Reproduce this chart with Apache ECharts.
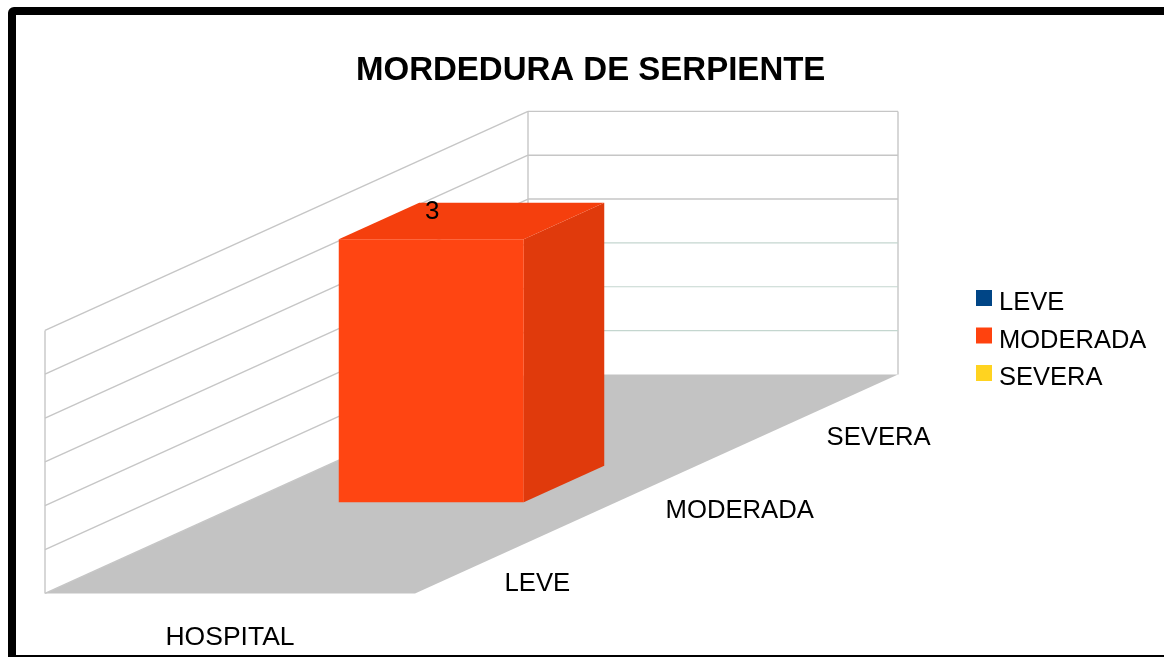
<!DOCTYPE html>
<html>
<head>
<meta charset="utf-8">
<title>MORDEDURA DE SERPIENTE</title>
<style>
html, body { margin: 0; padding: 0; background: #fff; overflow: hidden; }
#chart { width: 1164px; height: 657px; }
</style>
<script src="https://cdn.jsdelivr.net/npm/echarts@6/dist/echarts.min.js"></script>
</head>
<body>
<div id="chart"></div>
<script>
var categories = ['HOSPITAL'];
var seriesNames = ['LEVE', 'MODERADA', 'SEVERA'];
var leve = [0];
var moderada = [3];
var severa = [0];
var yTicks = [0, 0.5, 1, 1.5, 2, 2.5, 3];
var colors = ['#004586', '#ff420e', '#ffd320'];
var seriesValues = [leve, moderada, severa];

// the oblique projection: screen shift of one series row going back into the picture
var DEPTH_X = 161;
var DEPTH_Y = -73;
var BAR_SIZE = 0.5;
var FONT = '"Liberation Sans", Arial, sans-serif';
var GRID_COLOR = '#c6c6c6';
var TINT_COLOR = '#c4d6cf'; // the lower back wall lines are faintly coloured in the original

function projector(api) {
    var band = api.size([1, 0])[0];
    // c = category position, v = value, d = depth in series rows
    return function (c, v, d) {
        var p = api.coord([0, v]);
        return [p[0] + c * band + d * DEPTH_X, p[1] + d * DEPTH_Y];
    };
}

// echarts.color.lift only lightens, the bar faces need darker shades
function shade(color, k) {
    var c = echarts.color.parse(color);
    return 'rgb(' + Math.round(c[0] * k) + ',' + Math.round(c[1] * k) + ',' + Math.round(c[2] * k) + ')';
}

function line(a, b, color, width) {
    return {
        type: 'line',
        shape: { x1: a[0], y1: a[1], x2: b[0], y2: b[1] },
        style: { stroke: color || GRID_COLOR, lineWidth: width || 1.4 }
    };
}

function poly(points, color) {
    return { type: 'polygon', shape: { points: points }, style: { fill: color } };
}

function renderWalls(params, api) {
    var p = projector(api);
    var rows = seriesNames.length;
    var l = -0.5, r = categories.length - 0.5;
    var top = yTicks[yTicks.length - 1];
    var children = [
        poly([p(l, 0, 0), p(r, 0, 0), p(r, 0, rows), p(l, 0, rows)], '#c3c3c3'),
        line(p(l, 0, 0), p(l, top, 0)),
        line(p(l, 0, rows), p(l, top, rows)),
        line(p(r, 0, rows), p(r, top, rows)),
        line(p(l, 0, 0), p(l, 0, rows))
    ];
    yTicks.forEach(function (t) {
        if (t === 0) return;
        children.push(line(p(l, t, 0), p(l, t, rows)));
        if (t <= 1.5) {
            children.push(line(p(l, t, rows), p(r, t, rows), TINT_COLOR, 1.2));
        } else {
            children.push(line(p(l, t, rows), p(r, t, rows)));
        }
    });
    seriesNames.forEach(function (name, i) {
        var at = p(r, 0, i + 0.5);
        children.push({
            type: 'text',
            style: {
                x: at[0] + 9, y: at[1] + 27, text: name, fill: '#000',
                font: '25.7px ' + FONT, textAlign: 'left', textVerticalAlign: 'middle'
            }
        });
    });
    return { type: 'group', children: children };
}

function renderBar(params, api) {
    var v = api.value(1);
    if (!v) return null;
    var p = projector(api);
    var c = api.value(0);
    var row = params.seriesIndex - 1;
    var x0 = c - BAR_SIZE / 2, x1 = c + BAR_SIZE / 2;
    var d0 = row + 0.5 - BAR_SIZE / 2, d1 = row + 0.5 + BAR_SIZE / 2;
    var color = colors[row];
    var labelAt = p(c, v, d0);
    return {
        type: 'group',
        children: [
            poly([p(x1, 0, d0), p(x1, 0, d1), p(x1, v, d1), p(x1, v, d0)], shade(color, 0.88)),
            poly([p(x0, v, d0), p(x1, v, d0), p(x1, v, d1), p(x0, v, d1)], shade(color, 0.96)),
            poly([p(x0, 0, d0), p(x1, 0, d0), p(x1, v, d0), p(x0, v, d0)], echarts.color.lift(color, 0.02)),
            {
                type: 'text',
                style: {
                    x: labelAt[0] + 1, y: labelAt[1] - 27, text: String(v), fill: '#000',
                    font: '26px ' + FONT, textAlign: 'center', textVerticalAlign: 'middle'
                }
            }
        ]
    };
}

var series = [{
    type: 'custom',
    name: 'walls',
    silent: true,
    data: [[0, 0]],
    renderItem: renderWalls
}];
seriesNames.forEach(function (name, i) {
    series.push({
        type: 'custom',
        name: name,
        itemStyle: { color: colors[i] },
        data: seriesValues[i].map(function (v, c) { return [c, v]; }),
        encode: { x: 0, y: 1 },
        renderItem: renderBar
    });
});

var myChart = echarts.init(document.getElementById('chart'));
myChart.setOption({
    animation: false,
    title: {
        text: 'MORDEDURA DE SERPIENTE',
        left: 356,
        top: 54,
        padding: 0,
        textStyle: { fontFamily: FONT, fontSize: 33, fontWeight: 'bold', color: '#000' }
    },
    legend: {
        data: seriesNames,
        orient: 'vertical',
        left: 976,
        top: 290,
        padding: 0,
        icon: 'rect',
        itemWidth: 16,
        itemHeight: 16,
        itemGap: 11.5,
        selectedMode: false,
        formatter: '{a|{name}}',
        textStyle: {
            rich: {
                a: { fontFamily: FONT, fontSize: 25.5, color: '#000', padding: [10, 0, 0, 2] }
            }
        }
    },
    grid: { left: 45, top: 330.4, width: 370, height: 263 },
    xAxis: {
        type: 'category',
        data: categories,
        axisLine: { show: false },
        axisTick: { show: false },
        axisLabel: { fontFamily: FONT, fontSize: 26.5, color: '#000', margin: 31 }
    },
    yAxis: {
        type: 'value',
        min: yTicks[0],
        max: yTicks[yTicks.length - 1],
        interval: 0.5,
        axisLine: { show: false },
        axisTick: { show: false },
        axisLabel: { show: false },
        splitLine: { show: false }
    },
    graphic: [{
        type: 'rect',
        silent: true,
        shape: { x: 12, y: 11, width: 1300, height: 648, r: 2 },
        style: { fill: 'none', stroke: '#000', lineWidth: 8 }
    }],
    series: series
});
</script>
</body>
</html>
